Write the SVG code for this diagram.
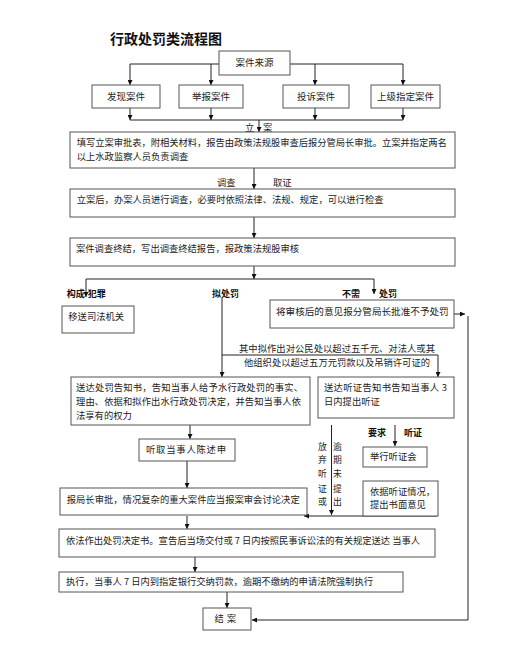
<svg xmlns="http://www.w3.org/2000/svg" width="529" height="650" viewBox="0 0 529 650">
<defs>
<marker id="ah" viewBox="0 0 10 10" refX="10" refY="5" markerWidth="5" markerHeight="5" markerUnits="userSpaceOnUse" orient="auto">
<path d="M0,0 L10,5 L0,10 z" fill="#111"/>
</marker>
</defs>
<style>
text{font-family:"Noto Sans CJK SC","Noto Sans",sans-serif;fill:#222;font-size:9.3px}
.t{font-size:14px;font-weight:bold;fill:#111}
.b{font-weight:bold;font-size:9px;fill:#111}
.c{text-anchor:middle}
.v{font-size:8.8px}
.box{fill:#fff;stroke:#555;stroke-width:1}
.ln{fill:none;stroke:#222;stroke-width:1}
.ar{fill:none;stroke:#222;stroke-width:1;marker-end:url(#ah)}
</style>
<rect width="529" height="650" fill="#fff"/>
<text class="t" x="110" y="44">行政处罚类流程图</text>

<g id="connectors">
<path class="ln" d="M130,64 H403"/>
<path class="ar" d="M130,64 V85"/>
<path class="ar" d="M211,64 V85"/>
<path class="ar" d="M315,64 V85"/>
<path class="ar" d="M403,64 V85"/>
<path class="ar" d="M130,108 V120"/>
<path class="ar" d="M211,108 V120"/>
<path class="ar" d="M315,108 V120"/>
<path class="ar" d="M403,108 V120"/>
<path class="ln" d="M130,120 H403"/>
<path class="ar" d="M259,120 V132"/>
<path class="ar" d="M254,168 V189"/>
<path class="ar" d="M254,217 V238"/>
<path class="ar" d="M254,266 V279"/>
<path class="ln" d="M86,279 H374"/>
<path class="ar" d="M86,279 V297"/>
<path class="ar" d="M374,279 V294"/>
<path class="ar" d="M222,298 V377"/>
<path class="ar" d="M222,355 H438 V377"/>
<path class="ar" d="M454,314 H465"/>
<path class="ar" d="M468,316 V620 H252"/>
<path class="ar" d="M190,425 V439"/>
<path class="ar" d="M187,461 V488"/>
<path class="ar" d="M331.5,425 V515"/>
<path class="ar" d="M395,425 V446"/>
<path class="ar" d="M437,516 H304"/>
<path class="ar" d="M187,516 V529"/>
<path class="ar" d="M195,557 V572"/>
<path class="ar" d="M227,592 V608"/>
</g>

<g id="n_source"><rect class="box" x="219" y="51" width="71" height="24"/><text class="c" x="254.5" y="66.3" style="font-size:9.5px">案件来源</text></g>
<g id="n_found"><rect class="box" x="92" y="85" width="68" height="23"/><text class="c" x="126" y="99.8" style="font-size:9.5px">发现案件</text></g>
<g id="n_report"><rect class="box" x="179" y="85" width="64" height="23"/><text class="c" x="211" y="99.8" style="font-size:9.5px">举报案件</text></g>
<g id="n_complaint"><rect class="box" x="283" y="85" width="66" height="23"/><text class="c" x="316" y="99.8" style="font-size:9.5px">投诉案件</text></g>
<g id="n_assigned"><rect class="box" x="371" y="85" width="69" height="23"/><text class="c" x="405.5" y="99.8" style="font-size:9.5px">上级指定案件</text></g>

<text x="245" y="131">立</text><text x="263" y="131">案</text>

<g id="n_file"><rect class="box" x="70" y="132" width="385" height="36"/>
<text x="76.7" y="146.3" textLength="370" lengthAdjust="spacing">填写立案审批表，附相关材料，报告由政策法规股审查后报分管局长审批。立案并指定两名</text>
<text x="76.7" y="160">以上水政监察人员负责调查</text></g>

<text x="217" y="186.3">调查</text><text x="273" y="186.3">取证</text>

<g id="n_investigate"><rect class="box" x="70" y="189" width="385" height="28"/>
<text x="76.7" y="203.3">立案后，办案人员进行调查，必要时依照法律、法规、规定，可以进行检查</text></g>

<g id="n_conclude"><rect class="box" x="70" y="238" width="385" height="28"/>
<text x="76" y="252.3">案件调查终结，写出调查终结报告，报政策法规股审核</text></g>

<text class="b" x="66.7" y="297.3">构成</text><text class="b" x="87.7" y="297.3">犯罪</text>
<text class="b" x="212" y="297.3">拟处罚</text>
<text class="b" x="342" y="297.3">不需</text><text class="b" x="379" y="297.3">处罚</text>

<g id="n_judicial"><rect class="box" x="62" y="306" width="72" height="27"/><text x="68.3" y="320.3">移送司法机关</text></g>

<g id="n_nopenalty"><rect class="box" x="270" y="300" width="184" height="28"/><text x="276" y="315" style="font-size:9.6px">将审核后的意见报分管局长批准不予处罚</text></g>

<text x="239" y="352" textLength="196" lengthAdjust="spacing">其中拟作出对公民处以超过五千元、对法人或其</text>
<text x="244" y="366" textLength="186" lengthAdjust="spacing">他组织处以超过五万元罚款以及吊销许可证的</text>

<g id="n_notice"><rect class="box" x="71" y="377" width="239" height="48"/>
<text x="76" y="391.3" textLength="227" lengthAdjust="spacing">送达处罚告知书，告知当事人给予水行政处罚的事实、</text>
<text x="76" y="405" textLength="225" lengthAdjust="spacing">理由、依据和拟作出水行政处罚决定，并告知当事人依</text>
<text x="76" y="419.3">法享有的权力</text></g>

<g id="n_hearingnotice"><rect class="box" x="318" y="377" width="136" height="41"/>
<text x="324" y="391.3" textLength="123" lengthAdjust="spacing">送达听证告知书告知当事人 3</text>
<text x="324" y="405">日内提出听证</text></g>

<g id="n_statement"><rect class="box" x="139" y="439" width="96" height="22"/>
<text x="146" y="453.3" textLength="80" lengthAdjust="spacing">听取当事人陈述申</text></g>

<g id="v_labels">
<text class="c v" x="322.5" y="450">放</text><text class="c v" x="322.5" y="463.3">弃</text><text class="c v" x="322.5" y="477.3">听</text><text class="c v" x="322.5" y="491.6">证</text><text class="c v" x="322.5" y="505">或</text>
<text class="c v" x="337.5" y="450">逾</text><text class="c v" x="337.5" y="463.3">期</text><text class="c v" x="337.5" y="477.3">未</text><text class="c v" x="337.5" y="491.6">提</text><text class="c v" x="337.5" y="505">出</text>
</g>

<text class="b" x="368" y="436">要求</text><text class="b" x="404" y="436">听证</text>

<g id="n_hearing"><rect class="box" x="363" y="447" width="64" height="20"/><text x="370" y="460.3">举行听证会</text></g>

<g id="n_opinion"><rect class="box" x="363" y="481" width="75" height="35"/>
<text x="370" y="495">依据听证情况，</text>
<text x="370" y="508.3">提出书面意见</text></g>

<g id="n_approve"><rect class="box" x="60" y="488" width="247" height="27"/>
<text x="66.7" y="502.6" textLength="233" lengthAdjust="spacing">报局长审批，情况复杂的重大案件应当报案审会讨论决定</text></g>

<g id="n_decision"><rect class="box" x="59" y="529" width="376" height="28"/>
<text x="66" y="544" textLength="354" lengthAdjust="spacing">依法作出处罚决定书。宣告后当场交付或 7 日内按照民事诉讼法的有关规定送达 当事人</text></g>

<g id="n_execute"><rect class="box" x="59" y="572" width="344" height="20"/>
<text x="66" y="585" textLength="307" lengthAdjust="spacing">执行，当事人 7 日内到指定银行交纳罚款，逾期不缴纳的申请法院强制执行</text></g>

<g id="n_close"><rect class="box" x="203" y="608" width="48" height="22"/>
<text class="c" x="226.7" y="622.3" style="letter-spacing:3px">结案</text></g>
</svg>
